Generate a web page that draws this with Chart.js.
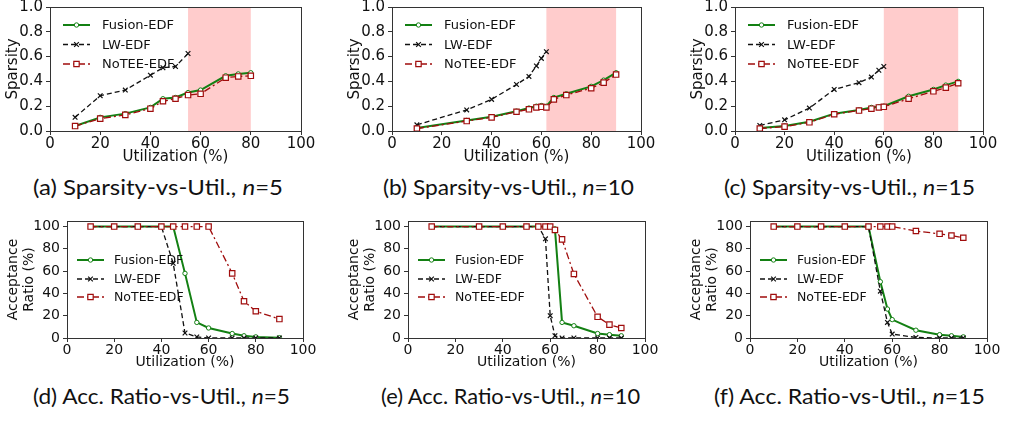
<!DOCTYPE html>
<html>
<head>
<meta charset="utf-8">
<script src="https://cdn.jsdelivr.net/npm/chart.js@4.4.0/dist/chart.umd.min.js"></script>
<style>
    body { margin: 0; width: 1009px; height: 422px; background: #fff; position: relative; overflow: hidden; font-family: "DejaVu Sans"; }
    canvas { position: absolute; }
    .cap { position: absolute; font-family: Lato; font-size: 21px; line-height: 22px; white-space: nowrap; color: #111; transform-origin: left center; }
</style>
</head>
<body>

<div class="cap" style="left:33px;top:176px" data-w="250">(a) Sparsity-vs-Util., <i>n</i>=5</div>
<div class="cap" style="left:383px;top:176px" data-w="251">(b) Sparsity-vs-Util., <i>n</i>=10</div>
<div class="cap" style="left:724px;top:176px" data-w="251">(c) Sparsity-vs-Util., <i>n</i>=15</div>
<div class="cap" style="left:33px;top:385px" data-w="257">(d) Acc. Ratio-vs-Util., <i>n</i>=5</div>
<div class="cap" style="left:381px;top:385px" data-w="259">(e) Acc. Ratio-vs-Util., <i>n</i>=10</div>
<div class="cap" style="left:714px;top:385px" data-w="271">(f) Acc. Ratio-vs-Util., <i>n</i>=15</div>

<script>
// ---- data ----
const seriesNames = ['Fusion-EDF', 'LW-EDF', 'NoTEE-EDF'];
const xTicks = [0, 20, 40, 60, 80, 100];
const sparsityTicks = [0, 0.2, 0.4, 0.6, 0.8, 1.0];
const accTicks = [0, 20, 40, 60, 80, 100];

// (a) n=5
const utilA = [10, 20, 30, 40, 45, 50, 55, 60, 70, 75, 80];
const fusionSpA = [0.04, 0.11, 0.14, 0.19, 0.26, 0.27, 0.31, 0.33, 0.445, 0.46, 0.47];
const noteeSpA = [0.04, 0.10, 0.13, 0.18, 0.24, 0.26, 0.29, 0.30, 0.43, 0.44, 0.445];
const lwUtilA = [10, 20, 30, 40, 45, 50, 55];
const lwSpA = [0.11, 0.285, 0.33, 0.45, 0.51, 0.52, 0.625];
const bandA = [55, 80];

// (b) n=10
const utilB = [10, 30, 40, 50, 55, 58, 60, 62, 65, 70, 80, 85, 90];
const fusionSpB = [0.025, 0.085, 0.115, 0.16, 0.185, 0.2, 0.205, 0.2, 0.27, 0.30, 0.36, 0.41, 0.47];
const noteeSpB = [0.02, 0.08, 0.11, 0.155, 0.175, 0.19, 0.195, 0.19, 0.255, 0.29, 0.345, 0.39, 0.455];
const lwUtilB = [10, 30, 40, 50, 55, 58, 60, 62];
const lwSpB = [0.05, 0.17, 0.255, 0.375, 0.44, 0.525, 0.585, 0.64];
const bandB = [62, 90];

// (c) n=15
const utilC = [10, 20, 30, 40, 50, 55, 58, 60, 70, 80, 85, 90];
const fusionSpC = [0.025, 0.04, 0.075, 0.14, 0.17, 0.19, 0.195, 0.2, 0.28, 0.335, 0.37, 0.40];
const noteeSpC = [0.02, 0.035, 0.07, 0.135, 0.165, 0.18, 0.19, 0.195, 0.26, 0.32, 0.35, 0.385];
const lwUtilC = [10, 20, 30, 40, 50, 55, 58, 60];
const lwSpC = [0.045, 0.09, 0.185, 0.335, 0.39, 0.435, 0.49, 0.52];
const bandC = [60, 90];

// (d) n=5
const utilD = [10, 20, 30, 40, 45, 50, 55, 60, 70, 75, 80, 90];
const fusionAccD = [100, 100, 100, 100, 100, 58, 14, 9, 4, 2, 1, 0.3];
const lwAccD = [100, 100, 100, 100, 67, 4.5, 1, 0, 0, 0, 0, 0];
const noteeAccD = [100, 100, 100, 100, 100, 100, 100, 100, 58, 33, 24, 17];

// (e) n=10
const utilE = [10, 30, 40, 50, 55, 58, 60, 62, 65, 70, 80, 85, 90];
const fusionAccE = [100, 100, 100, 100, 100, 100, 100, 98, 14, 11, 4, 3, 2];
const lwAccE = [100, 100, 100, 100, 100, 89, 20, 2, 0, 0, 0, 0, 0];
const noteeAccE = [100, 100, 100, 100, 100, 100, 100, 97, 88.5, 57.5, 19, 12, 9];

// (f) n=15
const utilF = [10, 20, 30, 40, 50, 55, 58, 60, 70, 80, 85, 90];
const fusionAccF = [100, 100, 100, 100, 100, 50.5, 26, 16.5, 7, 3, 2, 1];
const lwAccF = [100, 100, 100, 100, 100, 42, 14, 3.5, 0.5, 0, 0, 0];
const noteeAccF = [100, 100, 100, 100, 100, 100, 100, 100, 96, 93.5, 92, 90];

// ---- styles ----
const GREEN = '#138013';
const DARKRED = '#a00d0d';
const INK = '#111111';
const SPINE = '#333333';

function pts(xs, ys) {
    return xs.map((x, i) => ({ x: x, y: ys[i] }));
}

function makeDatasets(fx, fy, lx, ly, nx, ny) {
    return [
        {
            label: 'Fusion-EDF', data: pts(fx, fy), borderColor: GREEN, borderWidth: 2,
            pointStyle: 'circle', pointRadius: 2.2, pointBorderWidth: 1,
            pointBorderColor: GREEN, pointBackgroundColor: '#fff', order: 2
        },
        {
            label: 'LW-EDF', data: pts(lx, ly), borderColor: '#111', borderWidth: 1.3, borderDash: [5, 3],
            pointStyle: 'crossRot', pointRadius: 3.3, pointBorderWidth: 1.2,
            pointBorderColor: '#111', pointBackgroundColor: '#111', order: 1
        },
        {
            label: 'NoTEE-EDF', data: pts(nx, ny), borderColor: DARKRED, borderWidth: 1.3, borderDash: [7, 3, 2, 3],
            pointStyle: 'rect', pointRadius: 3.8, pointBorderWidth: 1.2,
            pointBorderColor: DARKRED, pointBackgroundColor: '#fff', order: 0
        }
    ];
}

// shaded utilization band behind the lines
const bandPlugin = {
    id: 'band',
    beforeDatasetsDraw(chart, args, opts) {
        if (!opts.range) return;
        const { ctx, chartArea: a, scales: { x } } = chart;
        const x0 = x.getPixelForValue(opts.range[0]);
        const x1 = x.getPixelForValue(opts.range[1]);
        ctx.save();
        ctx.fillStyle = '#ffcccc';
        ctx.fillRect(x0, a.top, x1 - x0, a.bottom - a.top);
        ctx.restore();
    }
};

// box around the plot + legend inside it (matplotlib style)
const framePlugin = {
    id: 'frame',
    afterDraw(chart, args, opts) {
        const { ctx, chartArea: a } = chart;
        ctx.save();
        ctx.strokeStyle = SPINE;
        ctx.lineWidth = 1;
        ctx.strokeRect(Math.round(a.left) + 0.5, Math.round(a.top) + 0.5,
            Math.round(a.right - a.left), Math.round(a.bottom - a.top));

        ctx.font = opts.font;
        ctx.textBaseline = 'middle';
        seriesNames.forEach((name, i) => {
            const ds = chart.data.datasets.find(d => d.label === name);
            const y = a.top + opts.rows[i];
            const xa = a.left + opts.x0, xb = a.left + opts.x1;
            ctx.strokeStyle = ds.borderColor;
            ctx.lineWidth = ds.borderWidth;
            ctx.setLineDash(ds.borderDash || []);
            ctx.beginPath();
            ctx.moveTo(xa, y);
            ctx.lineTo(xb, y);
            ctx.stroke();
            ctx.setLineDash([]);
            if (Chart.helpers && Chart.helpers.drawPoint) {
                ctx.fillStyle = ds.pointBackgroundColor;
                ctx.strokeStyle = ds.pointBorderColor;
                ctx.lineWidth = ds.pointBorderWidth;
                Chart.helpers.drawPoint(ctx, {
                    pointStyle: ds.pointStyle, radius: ds.pointRadius,
                    borderWidth: ds.pointBorderWidth, rotation: 0
                }, (xa + xb) / 2, y);
            }
            ctx.fillStyle = INK;
            ctx.fillText(name, a.left + opts.tx, y + 1);
        });
        ctx.restore();
    }
};

function makePanel(p) {
    const canvas = document.createElement('canvas');
    canvas.width = p.w;
    canvas.height = p.h;
    canvas.style.left = p.left + 'px';
    canvas.style.top = p.top + 'px';
    canvas.style.width = p.w + 'px';
    canvas.style.height = p.h + 'px';
    document.body.appendChild(canvas);

    const font = { family: 'DejaVu Sans', size: p.fontSize };

    new Chart(canvas.getContext('2d'), {
        type: 'line',
        data: { datasets: p.datasets },
        plugins: [bandPlugin, framePlugin],
        options: {
            responsive: false,
            animation: false,
            layout: { padding: { top: p.padTop, right: p.padRight, left: 0, bottom: 0 } },
            plugins: {
                legend: { display: false },
                tooltip: { enabled: false },
                band: { range: p.band },
                frame: { font: p.legendFont + 'px "DejaVu Sans"', rows: p.rows, x0: p.lx0, x1: p.lx1, tx: p.ltx }
            },
            scales: {
                x: {
                    type: 'linear', min: 0, max: 100,
                    afterBuildTicks: s => { s.ticks = xTicks.map(v => ({ value: v })); },
                    afterFit: s => { s.height = p.xH; s.paddingLeft = 0; s.paddingRight = 0; },
                    ticks: { font: font, color: INK, padding: 0, maxRotation: 0, autoSkip: false },
                    grid: { drawOnChartArea: false, tickLength: 4, color: SPINE },
                    border: { color: SPINE },
                    title: { display: true, text: 'Utilization (%)', font: font, color: INK, padding: { top: 0, bottom: p.xTitlePad } }
                },
                y: {
                    type: 'linear', min: 0, max: p.yMax,
                    afterBuildTicks: s => { s.ticks = p.yTicks.map(v => ({ value: v })); },
                    afterFit: s => { s.width = p.yW; s.paddingTop = 0; s.paddingBottom = 0; },
                    ticks: { font: font, color: INK, padding: 3, callback: p.yFmt },
                    grid: { drawOnChartArea: false, tickLength: 4, color: SPINE },
                    border: { color: SPINE },
                    title: {
                        display: true, text: p.yTitle, color: INK,
                        font: { family: 'DejaVu Sans', size: p.fontSize, lineHeight: 1.1 },
                        padding: { top: p.yTitlePad, bottom: 0 }
                    }
                }
            }
        }
    });
}

const sparsityFmt = v => v.toFixed(1);
const accFmt = v => String(v);

const topRow = {
    top: 0, h: 170, padTop: 7, xH: 39, yW: 50, fontSize: 15, legendFont: 13,
    rows: [18, 37.5, 57], lx0: 13, lx1: 40, ltx: 52, xTitlePad: 3.5, yTitlePad: 5,
    yMax: 1.0, yTicks: sparsityTicks, yFmt: sparsityFmt, yTitle: 'Sparsity'
};
const bottomRow = {
    top: 200, h: 176, padTop: 21, xH: 38, yW: 67, fontSize: 14, legendFont: 12.5,
    rows: [39, 58, 76], lx0: 10, lx1: 37, ltx: 47, xTitlePad: 5.5, yTitlePad: 6,
    yMax: 105, yTicks: accTicks, yFmt: accFmt, yTitle: ['Acceptance', 'Ratio (%)']
};

makePanel(Object.assign({}, topRow, { left: 0, w: 330, padRight: 29, band: bandA,
    datasets: makeDatasets(utilA, fusionSpA, lwUtilA, lwSpA, utilA, noteeSpA) }));
makePanel(Object.assign({}, topRow, { left: 342, w: 328, padRight: 29, band: bandB,
    datasets: makeDatasets(utilB, fusionSpB, lwUtilB, lwSpB, utilB, noteeSpB) }));
makePanel(Object.assign({}, topRow, { left: 685, w: 324, padRight: 26, band: bandC,
    datasets: makeDatasets(utilC, fusionSpC, lwUtilC, lwSpC, utilC, noteeSpC) }));

makePanel(Object.assign({}, bottomRow, { left: 0, w: 330, padRight: 27, band: null,
    datasets: makeDatasets(utilD, fusionAccD, utilD, lwAccD, utilD, noteeAccD) }));
makePanel(Object.assign({}, bottomRow, { left: 341, w: 331, padRight: 27, band: null,
    datasets: makeDatasets(utilE, fusionAccE, utilE, lwAccE, utilE, noteeAccE) }));
makePanel(Object.assign({}, bottomRow, { left: 683, w: 326, padRight: 22, band: null,
    datasets: makeDatasets(utilF, fusionAccF, utilF, lwAccF, utilF, noteeAccF) }));

// squeeze captions to the width they have in the figure
document.querySelectorAll('.cap').forEach(el => {
    const target = Number(el.dataset.w);
    const actual = el.getBoundingClientRect().width;
    if (actual > 0) el.style.transform = 'scaleX(' + (target / actual).toFixed(3) + ')';
});
</script>
</body>
</html>
